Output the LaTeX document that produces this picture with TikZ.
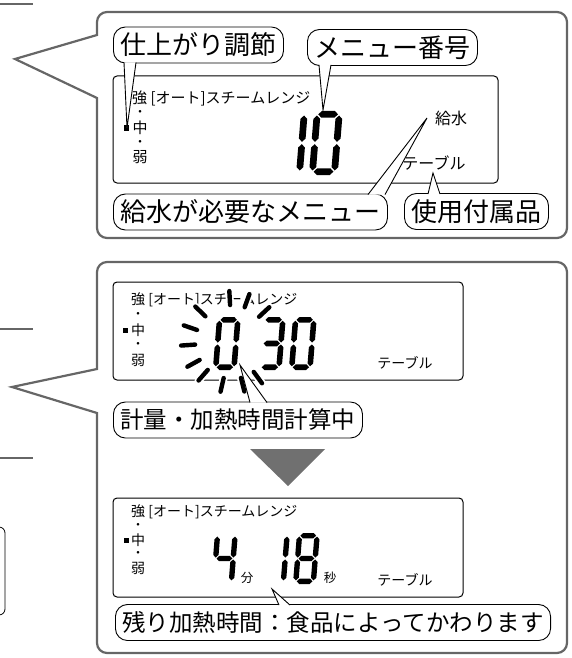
\documentclass[tikz,border=0pt]{standalone}
\usepackage{fontspec}
\newfontfamily\jpfont{Noto Sans CJK JP}
\usetikzlibrary{calc}

\definecolor{framegray}{HTML}{666666}
\definecolor{markgray}{HTML}{707070}

% fonts
\newcommand{\bubbleA}{\jpfont\fontsize{26}{30}\selectfont}
\newcommand{\bubbleB}{\jpfont\fontsize{23.5}{27}\selectfont}
\newcommand{\lcdA}{\jpfont\fontsize{15}{17}\selectfont}
\newcommand{\lcdB}{\jpfont\fontsize{14}{16}\selectfont}
\newcommand{\lcdC}{\jpfont\fontsize{12.5}{14}\selectfont}
\newcommand{\lcdDot}{\jpfont\fontsize{12.5}{12.5}\selectfont}

% segments of one LCD digit (cell 4.5 x 10, y pointing down)
\newcommand{\segA}{\fill (0.705,0.525) -- (1.23,0) -- (3.27,0) -- (3.795,0.525) -- (3.27,1.05) -- (1.23,1.05) -- cycle;}
\newcommand{\segB}{\fill (3.975,0.705) -- (4.5,1.23) -- (4.5,4.295) -- (3.975,4.82) -- (3.45,4.295) -- (3.45,1.23) -- cycle;}
\newcommand{\segC}{\fill (3.975,5.18) -- (4.5,5.705) -- (4.5,8.77) -- (3.975,9.295) -- (3.45,8.77) -- (3.45,5.705) -- cycle;}
\newcommand{\segD}{\fill (0.705,9.475) -- (1.23,8.95) -- (3.27,8.95) -- (3.795,9.475) -- (3.27,10) -- (1.23,10) -- cycle;}
\newcommand{\segE}{\fill (0.525,5.18) -- (1.05,5.705) -- (1.05,8.77) -- (0.525,9.295) -- (0,8.77) -- (0,5.705) -- cycle;}
\newcommand{\segF}{\fill (0.525,0.705) -- (1.05,1.23) -- (1.05,4.295) -- (0.525,4.82) -- (0,4.295) -- (0,1.23) -- cycle;}
\newcommand{\segG}{\fill (0.705,5) -- (1.23,4.475) -- (3.27,4.475) -- (3.795,5) -- (3.27,5.525) -- (1.23,5.525) -- cycle;}
\newcommand{\lcddigit}[4]{%
  \begin{scope}[shift={(#1,#2)}, scale=#3, xslant=0.08]
    \foreach \s in {#4} {\csname seg\s\endcsname}
  \end{scope}}

\begin{document}
\begin{tikzpicture}[x=1pt, y=-1pt,
    frame/.style={draw=framegray, line width=2.2pt},
    lcd/.style={draw, line width=1pt, rounded corners=4pt},
    bubble/.style={draw, line width=0.9pt, fill=white, rounded corners=12pt, inner xsep=7pt, inner ysep=0pt, minimum height=36pt, anchor=west},
    tail/.style={draw, line width=0.9pt, fill=white},
    ray/.style={line width=4.4pt, line cap=round}]
      \clip (0,0) rectangle (571,658);

      % left margin bits
      \draw[frame] (0,4) -- (33,4);
      \draw[frame] (0,329) -- (33,329);
      \draw[frame] (0,458) -- (33,458);
      \draw[line width=0.8pt, rounded corners=6pt] (-20,527) rectangle (5,615);

      % callout frames
      \draw[frame] (97,35) [rounded corners=10pt] |- (567,12) |- (97,238) -- (97,200) [sharp corners] -- (97,98) -- (15,59) -- cycle;
      \draw[frame] (97,369) [rounded corners=10pt] |- (567,262) |- (97,653) -- (97,600) [sharp corners] -- (97,413) -- (12,387) -- cycle;

      % panel 1
      \draw[lcd] (113,76) rectangle (498,183);
      \node[anchor=west, inner sep=0, font=\lcdA] (modeA) at (132,98) {強 [オート]スチームレンジ};
      \node[inner sep=0, font=\lcdDot] (dotA1) at (140,113) {・};
      \node[inner sep=0, font=\lcdA] (midA) at (140,128) {中};
      \node[inner sep=0, font=\lcdDot] (dotA2) at (140,143) {・};
      \node[inner sep=0, font=\lcdA] (weakA) at (140,157) {弱};
      \fill (124,125.5) rectangle (129,130.5);
      \node[inner sep=0, font=\jpfont\fontsize{16}{18}\selectfont] (waterA) at (451,118) {給水};
      \node[inner sep=0, font=\jpfont\fontsize{16}{18}\selectfont] (tableA) at (434,163) {テーブル};
      \lcddigit{279}{111}{6.4}{B,C}
      \lcddigit{314}{111}{6.4}{A,B,C,D,E,F}

      \node[bubble, font=\bubbleA] (adj) at (113,45) {仕上がり調節};
      \node[bubble, font=\bubbleA] (menu) at (307,47.5) {メニュー番号};
      \node[bubble, font=\bubbleA] (water) at (113,212) {給水が必要なメニュー};
      \node[bubble, font=\bubbleA] (acc) at (404,211.5) {使用付属品};

      \coordinate (tipAdj) at (127,128);
      \coordinate (tipMenu) at (323,110);
      \coordinate (tipWater) at (427,118);
      \coordinate (tipAcc) at (433,173);
      \filldraw[tail] ($(adj.south west)+(11,-1)$) -- (tipAdj) -- ($(adj.south west)+(23,-1)$);
      \filldraw[tail] ($(menu.south west)+(12,-1)$) -- (tipMenu) -- ($(menu.south west)+(24,-1)$);
      \filldraw[tail] ($(water.north west)+(255,1)$) -- (tipWater) -- ($(water.north west)+(272,1)$);
      \filldraw[tail] ($(acc.north west)+(24,1)$) -- (tipAcc) -- ($(acc.north west)+(36,1)$);

      % panel 2
      \draw[lcd] (113,282) rectangle (463,380);
      \node[anchor=west, inner sep=0, font=\lcdB] (modeB) at (131,300) {強 [オート]スチームレンジ};
      \node[inner sep=0, font=\lcdDot] (dotB1) at (138,315) {・};
      \node[inner sep=0, font=\lcdB] (midB) at (138,330) {中};
      \node[inner sep=0, font=\lcdDot] (dotB2) at (138,345) {・};
      \node[inner sep=0, font=\lcdB] (weakB) at (138,360) {弱};
      \fill (123,327.5) rectangle (127.5,332.5);
      \node[inner sep=0, font=\lcdB] (tableB) at (405,363) {テーブル};
      \lcddigit{217}{317}{5.3}{A,B,C,D,E,F}
      \lcddigit{262}{317}{5.3}{A,B,C,D,G}
      \lcddigit{293}{317}{5.3}{A,B,C,D,E,F}
      \coordinate (blink) at (232,342);
      \foreach \a in {43,70,93,136,161,184,209,229,257,284,306} {
        \draw[ray, white, line width=8pt] ($(blink)+(-\a:37)$) -- ($(blink)+(-\a:51)$);
        \draw[ray] ($(blink)+(-\a:37)$) -- ($(blink)+(-\a:51)$);
      }

      \node[bubble, font=\bubbleB] (calc) at (113,420) {計量・加熱時間計算中};
      \coordinate (tipCalc) at (240,365);
      \filldraw[tail] ($(calc.north west)+(137,1)$) -- (tipCalc) -- ($(calc.north west)+(154,1)$);

      % arrow between the two displays
      \fill[markgray] (250,449) -- (325,449) -- (288,486) -- cycle;

      % panel 3
      \draw[lcd] (113,498) rectangle (463,597);
      \node[anchor=west, inner sep=0, font=\lcdB] (modeC) at (131,512) {強 [オート]スチームレンジ};
      \node[inner sep=0, font=\lcdDot] (dotC1) at (138,526) {・};
      \node[inner sep=0, font=\lcdB] (midC) at (138,540) {中};
      \node[inner sep=0, font=\lcdDot] (dotC2) at (138,554) {・};
      \node[inner sep=0, font=\lcdB] (weakC) at (138,568) {弱};
      \fill (124,537.5) rectangle (128.5,542.5);
      \node[inner sep=0, font=\lcdB] (tableC) at (405,580) {テーブル};
      \lcddigit{215}{533}{5.1}{B,C,F,G}
      \lcddigit{267}{533}{5.1}{B,C}
      \lcddigit{297}{533}{5.1}{A,B,C,D,E,F,G}
      \node[inner sep=0, font=\lcdC] (minC) at (247,578) {分};
      \node[inner sep=0, font=\lcdC] (secC) at (330,578) {秒};

      \node[bubble, font=\bubbleB] (rest) at (115,622.5) {残り加熱時間：食品によってかわります};
      \coordinate (tipRest) at (272,589);
      \filldraw[tail] ($(rest.north west)+(164,1)$) -- (tipRest) -- ($(rest.north west)+(175,1)$);
\end{tikzpicture}
\end{document}
